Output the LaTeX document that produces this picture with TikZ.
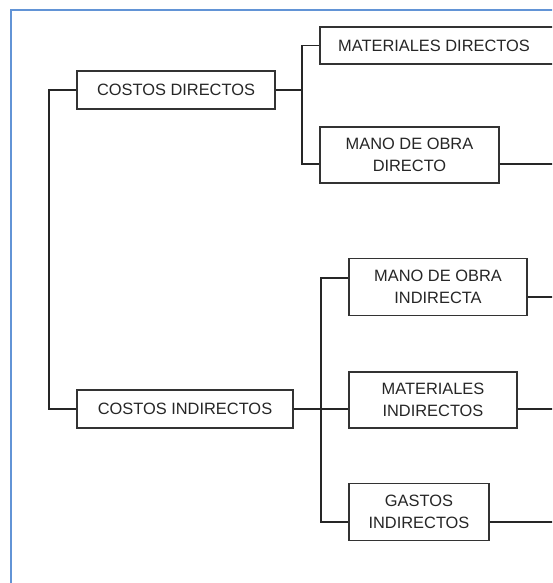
\documentclass[tikz,border=0pt]{standalone}
\usepackage{fontspec}
\setmainfont{Liberation Sans}
\usetikzlibrary{calc}

\definecolor{azulmarco}{RGB}{98,148,214}

\tikzset{
  caja/.style={draw=black!80, line width=1.6pt, fill=white, text=black!85,
    align=center, inner sep=0pt, font=\fontsize{16.4}{22}\selectfont},
  linea/.style={draw=black!85, line width=1.3pt},
  marco/.style={draw=azulmarco, line width=2pt}
}

\begin{document}
\begin{tikzpicture}[x=1pt, y=-1pt]
  \useasboundingbox (0,0) rectangle (552,583);
  \clip (0,0) rectangle (552,583);

  % Marco azul
  \draw[marco] (11,590) -- (11,10) -- (560,10);

  % Costos principales
  \node[caja, minimum width=198pt, minimum height=38pt] (cd) at (176,90) {COSTOS DIRECTOS};
  \node[caja, minimum width=216pt, minimum height=38pt] (ci) at (185,409) {COSTOS INDIRECTOS};

  % Costos directos
  \node[caja, minimum width=250pt, minimum height=37pt] (md) at (445,45.5) {\hspace*{-22pt}MATERIALES DIRECTOS};
  \node[caja, minimum width=179pt, minimum height=56pt] (mod) at (409.5,155) {MANO DE OBRA\\DIRECTO};

  % Costos indirectos
  \node[caja, minimum width=178pt, minimum height=57pt] (moi) at (438,287) {MANO DE OBRA\\INDIRECTA};
  \node[caja, minimum width=168pt, minimum height=56pt] (mi) at (433,400) {MATERIALES\\INDIRECTOS};
  \node[caja, minimum width=140pt, minimum height=57pt] (gi) at (419,512) {GASTOS\\INDIRECTOS};

  % Ramas
  \coordinate (rama0) at (49,0);
  \coordinate (rama1) at (302,0);
  \coordinate (rama2) at (321,0);
  \coordinate (fuera) at (560,0);
  \coordinate (mod-in) at ($(mod.west)+(0,9)$);
  \coordinate (mod-out) at ($(mod.east)+(0,9)$);
  \coordinate (moi-in) at ($(moi.west)+(0,-9)$);
  \coordinate (moi-out) at ($(moi.east)+(0,10)$);
  \coordinate (mi-in) at ($(mi.west)+(0,9)$);
  \coordinate (mi-out) at ($(mi.east)+(0,9)$);
  \coordinate (gi-in) at ($(gi.west)+(0,10)$);
  \coordinate (gi-out) at ($(gi.east)+(0,10)$);

  \draw[linea] (cd.west) -- (cd.west -| rama0) |- (ci.west);

  \draw[linea] (cd.east) -- (cd.east -| rama1);
  \draw[linea] (md.west) -- (md.west -| rama1) |- (mod-in);

  \draw[linea] (ci.east) -- (mi-in);
  \draw[linea] (moi-in) -- (moi-in -| rama2) |- (gi-in);

  % Salidas a la derecha
  \draw[linea] (mod-out) -- (mod-out -| fuera);
  \draw[linea] (moi-out) -- (moi-out -| fuera);
  \draw[linea] (mi-out) -- (mi-out -| fuera);
  \draw[linea] (gi-out) -- (gi-out -| fuera);
\end{tikzpicture}
\end{document}
